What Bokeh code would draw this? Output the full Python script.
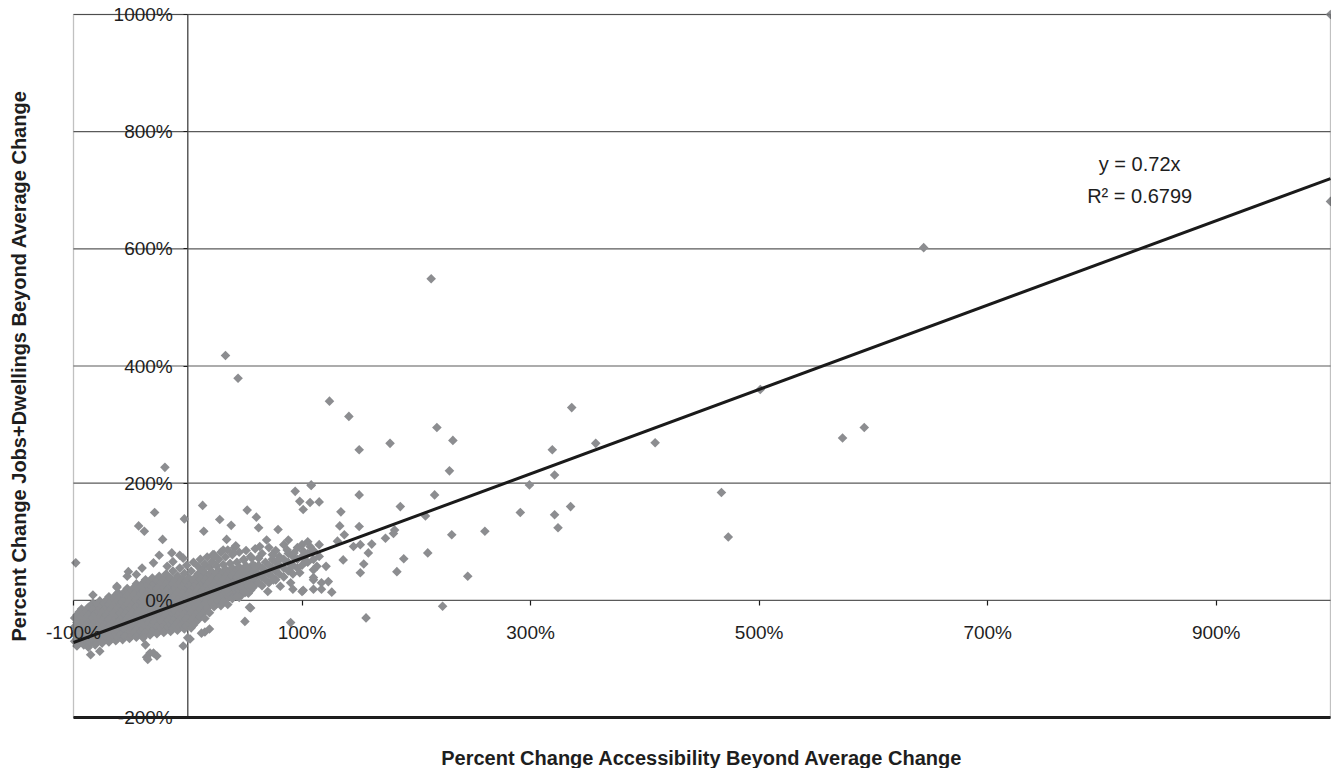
import math
from bokeh.plotting import figure
from bokeh.models import (LinearAxis, FixedTicker, Range1d, ColumnDataSource,
                          Label, BoxAnnotation)
from bokeh.embed import file_html
from bokeh.resources import INLINE

# ---------------- data ----------------
x_ticks = [-100, 100, 300, 500, 700, 900]
y_ticks = [-200, 0, 200, 400, 600, 800, 1000]
x_lim = (-100, 1000)
y_lim = (-200, 1000)
trend_slope = 0.72
trend_x = [-100, 1000]

# sparse points: (accessibility change %, jobs+dwellings change %)
outlier_pts = [
    (1000, 1000), (1000, 681), (644, 602), (501, 360), (409, 269), (573, 277),
    (592, 295), (467, 184), (473, 108), (213, 549), (33, 418), (44, 379),
    (124, 340), (141, 314), (218, 295), (336, 329), (177, 268), (232, 273),
    (150, 257), (319, 257), (357, 268), (229, 221), (321, 214), (299, 197),
    (108, 196), (150, 180), (216, 180), (186, 160), (291, 150), (321, 146),
    (335, 160), (324, 124), (260, 118), (231, 112), (208, 144), (210, 81),
    (189, 71), (183, 49), (245, 41), (223, -10), (156, -30),
]
mid_pts = [
    (134, 151), (133, 127), (150, 126), (137, 112), (181, 120), (180, 114),
    (173, 106), (131, 101), (145, 92), (151, 95), (161, 96), (136, 69),
    (158, 81), (154, 62), (151, 47), (121, 58), (113, 58), (110, 39),
    (117, 30), (123, 32), (117, 19), (126, 14), (101, 17), (98, 169),
    (107, 167), (115, 168), (101, 155), (94, 186), (108, 197),
    (69, 103), (63, 92), (74, 78), (80, 69), (88, 103), (87, 86), (93, 81),
    (101, 84), (107, 92), (103, 66), (91, 58), (98, 47), (110, 52), (110, 35),
    (90, 30), (92, 19), (100, 15), (110, 19), (50, 13), (56, 24), (43, 7),
    (34, 18), (75, 35), (81, 24), (66, 47), (59, 58), (49, 69), (40, 81),
    (31, 86), (23, 75),
]
edge_pts = [
    (-20, 227), (-98, 64), (-83, 9), (-62, 22), (-29, 150), (-43, 127),
    (-38, 118), (-3, 139), (-22, 104), (13, 162), (14, 118), (28, 138),
    (38, 128), (52, 154), (60, 142), (62, 124), (79, 121),
    (90, -38), (50, -36), (54, -12), (15, -54), (19, -49), (-4, -78), (0, -64),
    (-36, -97), (-33, -90), (-85, -93), (-77, -87), (-81, -76), (-37, -76),
    (-30, -90), (-35, -101), (-27, -95), (-39, -64), (12, -56), (2, -66),
    (55, -13), (70, 15), (34, 104), (42, 93), (22, 78), (56, 72),
    (-25, 77), (-14, 81), (-7, 77), (-4, 72), (-40, 55), (-52, 49), (-53, 41),
    (-45, 44), (-62, 24), (-30, 64), (-18, 58), (-13, 66),
]
# dense core of the cloud: x -> list of y values
core_columns = {
    -99: [-30, -45, -58, -70], -97: [-25, -38, -52, -65, -78],
    -95: [-33, -46, -60, -72, -20], -93: [-28, -41, -55, -67, -15],
    -91: [-36, -49, -62, -23, -76], -89: [-31, -44, -57, -69, -18],
    -87: [-26, -39, -52, -65, -12, -80], -85: [-34, -47, -60, -21, -72],
    -83: [-29, -42, -55, -67, -16, -5], -81: [-24, -37, -50, -63, -11, -75],
    -79: [-32, -45, -58, -19, -70, -6], -77: [-27, -40, -53, -65, -14, -1],
    -75: [-22, -35, -48, -61, -9, -73], -73: [-30, -43, -56, -17, -68, -4],
    -71: [-25, -38, -51, -63, -12, 1], -69: [-20, -33, -46, -59, -7, -71, 6],
    -67: [-28, -41, -54, -15, -66, -2], -65: [-23, -36, -49, -61, -10, 3],
    -63: [-18, -31, -44, -57, -5, -69, 9], -61: [-26, -39, -52, -13, -64, 0, 13],
    -59: [-21, -34, -47, -59, -8, 5], -57: [-16, -29, -42, -55, -3, -67, 10],
    -55: [-24, -37, -50, -11, -62, 2, 15], -53: [-19, -32, -45, -57, -6, 7, 20],
    -51: [-14, -27, -40, -53, -1, -65, 12], -49: [-22, -35, -48, -9, -60, 4, 17],
    -47: [-17, -30, -43, -55, -4, 9, 22], -45: [-12, -25, -38, -51, 1, -63, 14, 28],
    -43: [-20, -33, -46, -7, -58, 6, 19], -41: [-15, -28, -41, -53, -2, 11, 24],
    -39: [-10, -23, -36, -49, 3, -61, 16, 30], -37: [-18, -31, -44, -5, -56, 8, 21, 35],
    -35: [-13, -26, -39, -51, 0, 13, 26], -33: [-8, -21, -34, -47, 5, -59, 18, 32],
    -31: [-16, -29, -42, -3, -54, 10, 23, 38], -29: [-11, -24, -37, -49, 2, 15, 28],
    -27: [-6, -19, -32, -45, 7, -57, 20, 34], -25: [-14, -27, -40, -1, -52, 12, 25, 41],
    -23: [-9, -22, -35, -47, 4, 17, 30], -21: [-4, -17, -30, -43, 9, -55, 22, 36],
    -19: [-12, -25, -38, 1, -50, 14, 27, 45], -17: [-7, -20, -33, -45, 6, 19, 32],
    -15: [-2, -15, -28, -41, 11, -53, 24, 38], -13: [-10, -23, -36, 3, -48, 16, 29, 50],
    -11: [-5, -18, -31, -43, 8, 21, 34], -9: [0, -13, -26, -39, 13, -51, 26, 42],
    -7: [-8, -21, -34, 5, -46, 18, 31, 55], -5: [-3, -16, -29, -41, 10, 23, 36],
    -3: [2, -11, -24, -37, 15, -49, 28, 46], -1: [-6, -19, -32, 7, -44, 20, 33, 60],
    1: [-1, -14, -27, -39, 12, 25, 38], 3: [4, -9, -22, -35, 17, -47, 30, 50],
    5: [-4, -17, -30, 9, -42, 22, 35, 65], 7: [1, -12, -25, -37, 14, 27, 40],
    9: [6, -7, -20, -33, 19, 32, 45, 58], 11: [-2, -15, -28, 11, 24, 37, 70],
    13: [3, -10, -23, 16, 29, 42, 52], 15: [8, -5, -18, -31, 21, 34, 47, 62],
    17: [0, -13, 13, 26, 39, 74], 19: [5, -8, -21, 18, 31, 44, 56],
    21: [10, -3, 23, 36, 49, 66], 23: [2, -11, 15, 28, 41, 78],
    25: [7, -6, 20, 33, 46, 59], 27: [12, -1, 25, 38, 51, 70],
    29: [4, -9, 17, 30, 43, 82], 31: [9, -4, 22, 35, 48, 61],
    33: [14, 1, 27, 40, 53, 74], 35: [6, -7, 19, 32, 45, 86],
    37: [11, 24, 37, 50, 63], 39: [16, 3, 29, 42, 55, 78],
    41: [8, 21, 34, 47, 90], 43: [13, 26, 39, 52, 65],
    45: [18, 5, 31, 44, 57, 82], 47: [10, 23, 36, 49],
    49: [15, 28, 41, 54, 70], 51: [20, 33, 46, 59, 85],
    53: [12, 25, 38, 51], 55: [17, 30, 43, 56, 75],
    57: [22, 35, 48, 61], 59: [27, 40, 53, 88],
    62: [30, 45, 60, 72], 65: [25, 40, 55, 80], 68: [35, 50, 65],
    71: [30, 45, 60, 90], 74: [40, 55, 70], 77: [35, 50, 65, 85],
    80: [45, 60, 75], 84: [40, 55, 70, 95], 88: [50, 65, 80],
    92: [45, 60, 75], 96: [55, 70, 90], 100: [60, 75, 95],
    105: [65, 80, 100], 110: [70, 85], 115: [75, 95],
}

x_title = "Percent Change Accessibility Beyond Average Change"
y_title = "Percent Change Jobs+Dwellings Beyond Average Change"
eq_text = "y = 0.72x"
r2_text = "R² = 0.6799"

# ---------------- layout (pixels) ----------------
W, H = 1331, 768
AREA_L, AREA_R, AREA_T, AREA_B = 73, 1330, 14, 717
sx = (AREA_R - AREA_L) / (x_lim[1] - x_lim[0])
sy = (AREA_B - AREA_T) / (y_lim[1] - y_lim[0])
x_rng = Range1d(x_lim[0] - AREA_L / sx, x_lim[1] + (W - AREA_R) / sx)
y_rng = Range1d(y_lim[0] - (H - AREA_B) / sy, y_lim[1] + AREA_T / sy)

# ---------------- sources ----------------
px, py = [], []
for xv, ys in core_columns.items():
    for yv in ys:
        px.append(xv)
        py.append(yv)
for group in (edge_pts, mid_pts, outlier_pts):
    for xv, yv in group:
        px.append(xv)
        py.append(yv)
pts = ColumnDataSource(dict(x=px, y=py))
trend = ColumnDataSource(dict(x=trend_x, y=[trend_slope * v for v in trend_x]))
hgrid = ColumnDataSource(dict(x0=[x_lim[0]] * len(y_ticks), x1=[x_lim[1]] * len(y_ticks),
                              y=y_ticks))
vaxis = ColumnDataSource(dict(x=[0], y0=[y_lim[0]], y1=[y_lim[1]]))
bottom = ColumnDataSource(dict(x0=[x_lim[0]], x1=[x_lim[1]], y=[y_lim[0]]))

FONT = "Liberation Sans"
TXT = "#1e1e1e"

p = figure(width=W, height=H, x_range=x_rng, y_range=y_rng,
           x_axis_type=None, y_axis_type=None,
           output_backend="svg", toolbar_location=None,
           min_border=0, min_border_left=0, min_border_right=0,
           min_border_top=0, min_border_bottom=0,
           background_fill_color="white", border_fill_color="white")
p.outline_line_color = None

# gridlines and axis lines (drawn under the points)
p.segment(x0="x0", x1="x1", y0="y", y1="y", source=hgrid, line_color="#5a5a5a",
          line_width=1.2, level="underlay")
p.segment(x0="x", x1="x", y0="y0", y1="y1", source=vaxis, line_color="#5a5a5a",
          line_width=1.5, level="underlay")

# points
p.scatter("x", "y", source=pts, marker="square", size=6.8, angle=math.pi / 4,
          fill_color="#8c8d90", line_color=None)

# trend line
p.line("x", "y", source=trend, line_color="#1a1a1a", line_width=3)

# plot-area border
p.add_layout(BoxAnnotation(left=x_lim[0], right=x_lim[1], bottom=y_lim[0], top=y_lim[1],
                           fill_alpha=0, line_color="#333333", line_width=1.3))
p.segment(x0="x0", x1="x1", y0="y", y1="y", source=bottom, line_color="#1a1a1a",
          line_width=3)

# axes crossing at zero
xaxis = LinearAxis(fixed_location=0, ticker=FixedTicker(ticks=x_ticks),
                   major_label_overrides={t: f"{t}%" for t in x_ticks})
xaxis.axis_line_color = None
xaxis.major_tick_line_color = "#1a1a1a"
xaxis.major_tick_line_width = 1.2
xaxis.major_tick_out = 5
xaxis.major_tick_in = 0
xaxis.minor_tick_line_color = None
xaxis.major_label_standoff = 17
xaxis.major_label_text_font = FONT
xaxis.major_label_text_font_size = "19px"
xaxis.major_label_text_color = TXT
p.add_layout(xaxis, "below")

yaxis = LinearAxis(fixed_location=0, ticker=FixedTicker(ticks=y_ticks),
                   major_label_overrides={t: f"{t}%" for t in y_ticks})
yaxis.axis_line_color = None
yaxis.major_tick_line_color = "#1a1a1a"
yaxis.major_tick_line_width = 1.2
yaxis.major_tick_out = 4
yaxis.major_tick_in = 0
yaxis.minor_tick_line_color = None
yaxis.major_label_standoff = 11
yaxis.major_label_text_font = FONT
yaxis.major_label_text_font_size = "19px"
yaxis.major_label_text_color = TXT
p.add_layout(yaxis, "left")

# trendline equation
p.add_layout(Label(x=833, y=744, text=eq_text, text_align="center",
                   text_baseline="alphabetic", text_font=FONT,
                   text_font_size="20px", text_color=TXT))
p.add_layout(Label(x=833, y=690, text=r2_text, text_align="center",
                   text_baseline="alphabetic", text_font=FONT,
                   text_font_size="20px", text_color=TXT))

# axis titles
p.add_layout(Label(x=(x_lim[0] + x_lim[1]) / 2, y=y_lim[0], y_offset=-40, text=x_title,
                   text_align="center", text_baseline="middle", text_font=FONT,
                   text_font_size="20px", text_font_style="bold", text_color=TXT))
p.add_layout(Label(x=x_lim[0], y=(y_lim[0] + y_lim[1]) / 2, x_offset=-55, text=y_title,
                   angle=math.pi / 2, text_align="center", text_baseline="middle",
                   text_font=FONT, text_font_size="20px", text_font_style="bold",
                   text_color=TXT))

open("out.html", "w").write(file_html(p, INLINE))
